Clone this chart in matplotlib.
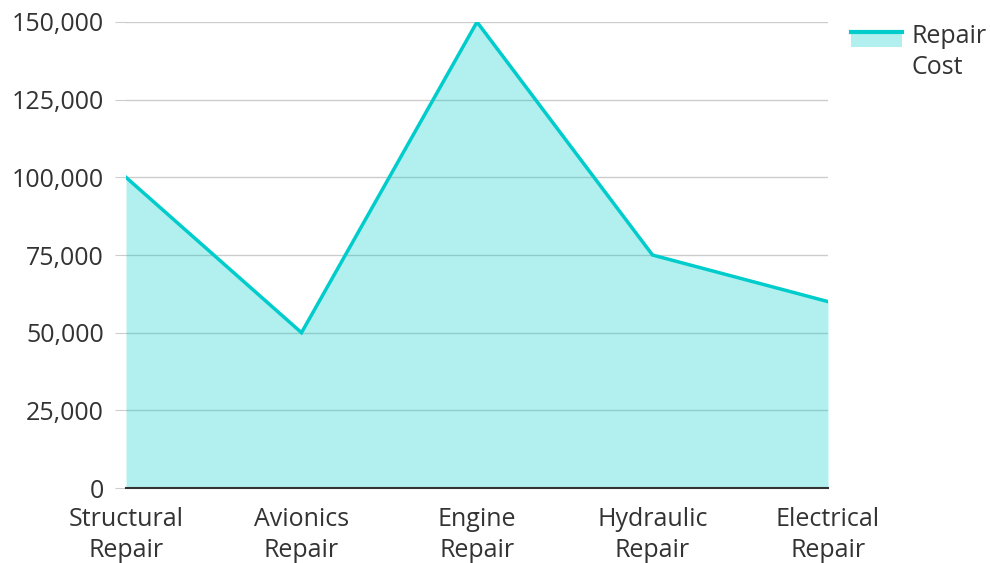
import matplotlib.pyplot as plt
from matplotlib.patches import Rectangle
from matplotlib.lines import Line2D
from matplotlib.legend_handler import HandlerBase
import numpy as np

categories = ['Structural\nRepair', 'Avionics\nRepair', 'Engine\nRepair', 'Hydraulic\nRepair', 'Electrical\nRepair']
repair_cost = [100000, 50000, 150000, 75000, 60000]
yticks = [0, 25000, 50000, 75000, 100000, 125000, 150000]

line_color = '#00cccc'

plt.rcParams['font.family'] = ['Open Sans', 'DejaVu Sans']


class AreaHandler(HandlerBase):
    def create_artists(self, legend, orig_handle, xdescent, ydescent, width, height, fontsize, trans):
        # shift the swatch up so it sits beside the first line of the label
        off = 0.56 * fontsize
        rect = Rectangle((-xdescent, -ydescent + off), width, height, facecolor=line_color, alpha=0.3,
                         edgecolor='none', transform=trans)
        line = Line2D([-xdescent, -xdescent + width], [height - ydescent + off - 1.2] * 2,
                      color=line_color, lw=3, transform=trans)
        return [rect, line]


fig = plt.figure(figsize=(9.9, 5.63), dpi=100)
ax = fig.add_axes([126 / 990, 75 / 563, 702 / 990, 466 / 563])

x = np.arange(len(categories))
ax.fill_between(x, repair_cost, 0, color=line_color, alpha=0.3, lw=0, zorder=2)
ax.plot(x, repair_cost, color=line_color, lw=2.5, solid_joinstyle='miter', zorder=3)

ax.set_xlim(0, len(categories) - 1)
ax.set_ylim(0, 150000)
ax.set_yticks(yticks)
ax.set_yticklabels([f'{v:,}' for v in yticks])
ax.set_xticks(x)
ax.set_xticklabels(categories, linespacing=1.3)

ax.grid(axis='y', color='#cccccc', lw=1, zorder=1)
ax.set_axisbelow(True)
ax.tick_params(axis='y', length=8, color='#cccccc', labelsize=18, labelcolor='#333333', pad=8)
ax.tick_params(axis='x', length=0, labelsize=18, labelcolor='#333333', pad=14)
for s in ['top', 'right', 'left']:
    ax.spines[s].set_visible(False)
ax.spines['bottom'].set_color('#333333')
ax.spines['bottom'].set_linewidth(1.5)
ax.spines['bottom'].set_zorder(4)

leg = ax.legend([object()], ['Repair\nCost'], handler_map={object: AreaHandler()},
                loc='upper left', bbox_to_anchor=(846 / 990, 1 - 19 / 563), bbox_transform=fig.transFigure,
                frameon=False, fontsize=18, handlelength=2.05, handleheight=0.62,
                handletextpad=0.36, borderpad=0.2, borderaxespad=0, labelcolor='#333333')
for t in leg.get_texts():
    t.set_linespacing(1.33)

fig.savefig('out.png')
